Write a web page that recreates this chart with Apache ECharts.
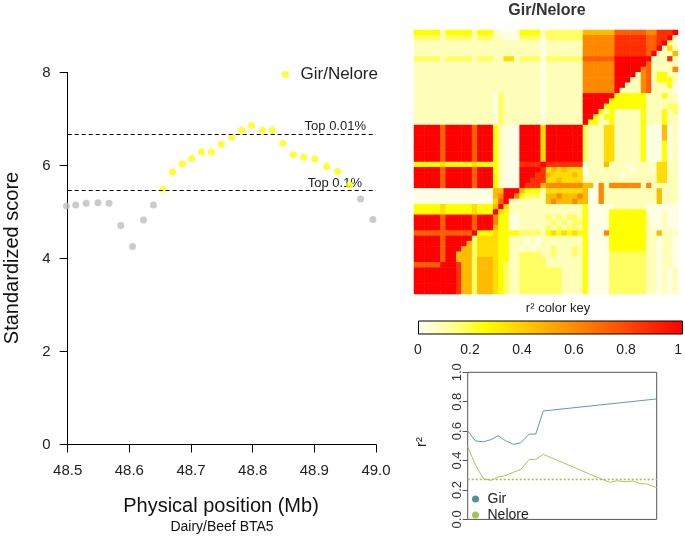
<!DOCTYPE html>
<html><head><meta charset="utf-8">
<script src="https://cdn.jsdelivr.net/npm/echarts@6/dist/echarts.min.js"></script>
<style>html,body{margin:0;padding:0;background:#fff}#c{width:685px;height:536px}</style>
</head><body><div id="c"></div>
<script>
// ---------- Left panel: standardized scores along BTA5 ----------
const positions = [48.498,48.513,48.530,48.549,48.567,48.586,48.605,48.623,48.639,48.655,
  48.670,48.686,48.701,48.717,48.733,48.749,48.766,48.782,48.798,48.816,
  48.832,48.849,48.866,48.883,48.901,48.920,48.938,48.957,48.975,48.995];
const scores = [5.13,5.15,5.19,5.20,5.19,4.71,4.26,4.83,5.15,5.49,
  5.86,6.03,6.15,6.29,6.29,6.45,6.61,6.76,6.86,6.76,
  6.76,6.48,6.23,6.18,6.14,5.98,5.87,5.58,5.28,4.84];
const TOP_001 = 6.68;   // Top 0.01% threshold
const TOP_01 = 5.46;    // Top 0.1% threshold
const xTickValues = [48.5,48.6,48.7,48.8,48.9,49.0];
const yTickValues = [0,2,4,6,8];

// ---------- LD heatmap (50 SNPs); digit = r2 level index ----------
const ldLevels = [0.02,0.08,0.17,0.25,0.35,0.45,0.6,0.72,0.86,1.0];
const ldRows = [
"33333 1 33333 1 333 1 0 000 3333 1 2222222 555555 777777 66 888 9",
"22222 1 22222 1 222 1 1 000 2222 0 2222222 666666 888888 77 889 1",
"11111 1 11111 1 111 1 1 111 1111 0 1111111 666666 888888 77 892 0",
"11111 1 11111 1 111 1 1 111 1111 0 1111111 666666 888888 77 914 1",
"11111 1 11111 1 111 1 1 111 1111 0 1111111 666666 888888 79 111 5",
"22222 1 22222 1 222 1 1 441 2222 0 2222222 777777 999999 91 118 1",
"11111 1 11111 1 111 1 1 111 1111 0 1111111 666666 999999 71 111 1",
"11111 1 11111 1 111 1 1 111 1111 0 1111111 666666 999996 71 111 6",
"11111 1 11111 1 111 1 1 111 1111 0 1111111 666666 999916 71 331 1",
"11111 1 11111 1 111 1 1 111 1111 0 1111111 666666 999116 71 333 1",
"11111 1 11111 1 111 1 1 111 1111 0 1111111 666666 991116 71 113 0",
"11111 1 11111 1 111 1 1 111 1111 0 1111111 666666 911116 71 111 0",
"11111 1 11111 1 111 0 2 111 1111 0 1111111 999999 333333 11 131 1",
"11111 1 11111 1 111 0 2 111 1111 0 1111111 999993 333333 11 111 1",
"11111 1 11111 1 111 0 2 111 1111 0 1111111 999933 333333 11 112 2",
"11111 1 11111 1 111 0 2 111 1111 0 1111111 999313 111113 11 131 2",
"11111 1 11111 1 111 0 2 111 1111 0 1111111 993133 111113 11 131 1",
"11111 1 11111 1 111 0 2 111 1111 0 1111111 933113 111113 11 131 1",
"99999 7 99999 7 999 3 1 000 9999 4 9999999 211144 111113 00 050 1",
"99999 7 99999 7 999 3 1 000 9999 4 9999999 211144 111113 00 050 1",
"99999 7 99999 7 999 3 1 000 9999 4 9999999 211144 111113 00 050 1",
"99999 7 99999 7 999 3 1 000 9999 4 9999999 211144 111113 00 030 1",
"99999 7 99999 7 999 3 1 000 9999 4 9999999 211144 111113 00 030 1",
"99999 7 99999 7 999 3 1 000 9999 4 9999999 211144 111113 00 030 1",
"99999 7 99999 7 999 3 1 000 9999 4 9999999 211144 111113 00 030 1",
"33333 4 33333 4 333 3 1 000 8888 9 8888888 011151 110111 11 441 1",
"99999 7 99999 7 999 3 1 000 9999 8 4545444 011111 111011 10 441 1",
"99999 7 99999 7 999 3 1 000 9998 8 5444454 011111 101111 11 441 1",
"99999 7 99999 7 999 3 1 000 9988 8 4454444 111111 111111 11 441 1",
"99999 7 99999 7 999 3 1 000 9888 5 6666666 550616 666661 61 111 1",
"00000 0 00000 0 000 5 5 999 5333 1 4444444 500611 111111 11 511 1",
"00000 0 00000 0 000 5 6 996 3222 1 5565556 500611 111111 11 511 1",
"00000 0 00000 0 000 4 7 911 1111 1 5655565 500611 111111 11 511 1",
"33333 4 33333 4 333 5 9 411 1111 1 1111111 300000 111111 00 000 0",
"33333 4 33333 4 333 9 4 311 1111 1 1111111 300003 333333 00 010 0",
"99999 7 99999 7 999 6 3 300 1111 1 2121221 300003 333333 10 010 0",
"99999 7 99999 7 999 6 3 300 1111 1 1212122 300003 333333 10 010 0",
"99999 7 99999 7 999 5 3 300 1111 1 2121221 300003 333333 10 010 0",
"77777 7 77777 9 333 4 3 333 2222 1 3434343 300063 333333 11 511 1",
"99999 7 99999 2 444 4 3 311 1010 1 1111111 300003 333333 11 011 0",
"99999 7 99995 2 444 4 3 311 1010 1 1111111 300003 333333 11 011 0",
"99999 7 99955 2 444 4 3 311 0101 1 1211121 300003 333333 11 011 0",
"99999 7 99555 2 444 4 3 311 2222 1 1211121 300002 222222 11 011 0",
"99999 7 99555 2 555 4 3 311 2222 2 1111111 300002 222222 11 011 0",
"77777 9 99855 2 555 4 3 211 2222 2 1111111 300002 222222 11 011 0",
"99999 9 99855 2 555 4 3 211 2222 2 2221111 300002 222222 11 010 1",
"99999 9 99855 2 555 4 3 211 2222 2 2221111 300002 222222 11 010 1",
"99999 9 99855 2 555 4 3 211 2222 2 2221111 300002 222222 11 010 1",
"99999 9 99855 2 555 4 3 211 2222 2 2221111 300002 222222 11 010 1",
"99999 9 99855 2 555 4 3 211 2222 2 2221111 300002 222222 11 010 1"
];
const keyTicks = [0,0.2,0.4,0.6,0.8,1];
const keyColors = ['#FFFFF5','#FFFF99','#FFFF00','#FFD500','#FFAA00','#FF8000','#FF5500','#FF2A00','#FF0000'];

// ---------- r2 decay lines ----------
const lineX   = [0,0.041,0.084,0.123,0.161,0.200,0.242,0.281,0.325,0.360,0.400,1.0];
const girR2   = [0.603,0.533,0.528,0.542,0.569,0.535,0.510,0.521,0.580,0.580,0.737,0.819];
const neloreX = [0,0.041,0.084,0.123,0.161,0.193,0.242,0.281,0.325,0.360,0.400,0.719,0.754,0.789,0.833,0.877,0.912,0.947,1.0];
const neloreR2= [0.494,0.370,0.275,0.266,0.288,0.295,0.320,0.340,0.408,0.408,0.442,0.268,0.252,0.263,0.256,0.261,0.243,0.241,0.216];
const r2Threshold = 0.268;
const r2Ticks = [0,0.2,0.4,0.6,0.8,1.0];

// ---------- build ----------
const FONT = '"Liberation Sans", Arial, Helvetica, sans-serif';
const greyPts = [], yellowPts = [];
positions.forEach((p, i) => (scores[i] > TOP_01 ? yellowPts : greyPts).push([p, scores[i]]));

const heat = [];
ldRows.forEach((s, r) => {
  const t = s.replace(/\s+/g, '');
  if (t.length !== 50) console.warn('row', r, 'len', t.length);
  for (let c = 0; c < t.length; c++) heat.push([c, r, ldLevels[+t[c]]]);
});
const snpIdx = Array.from({length: 50}, (_, i) => String(i));

const chart = echarts.init(document.getElementById('c'), null, {renderer: 'canvas'});
const option = {
  animation: false,
  backgroundColor: '#fff',
  textStyle: {fontFamily: FONT},
  grid: [
    {left: 67.7, top: 72.5, width: 308.3, height: 372},
    {left: 414, top: 30, width: 264, height: 264},
    {left: 418, top: 321, width: 264, height: 13},
    {left: 467.7, top: 372.3, width: 189, height: 147.1, show: true, borderColor: '#555', borderWidth: 1, backgroundColor: 'transparent'}
  ],
  xAxis: [
    {gridIndex: 0, type: 'value', min: 48.5, max: 49.0, interval: 0.1,
     axisLine: {lineStyle: {color: '#000', width: 1}},
     axisTick: {length: 8, lineStyle: {color: '#000'}},
     axisLabel: {fontSize: 15, color: '#222', margin: 19, formatter: v => v.toFixed(1)},
     splitLine: {show: false}},
    {gridIndex: 1, type: 'category', data: snpIdx, show: false},
    {gridIndex: 2, type: 'value', min: 0, max: 1, interval: 0.2,
     axisLine: {show: false}, axisTick: {show: false}, splitLine: {show: false},
     axisLabel: {fontSize: 14, color: '#222', margin: 9, formatter: v => (v === 0 || v === 1) ? String(v) : v.toFixed(1)}},
    {gridIndex: 3, type: 'value', min: 0, max: 1, show: false}
  ],
  yAxis: [
    {gridIndex: 0, type: 'value', min: 0, max: 8, interval: 2,
     axisLine: {show: true, lineStyle: {color: '#000', width: 1}},
     axisTick: {show: true, length: 8, lineStyle: {color: '#000'}},
     axisLabel: {fontSize: 15, color: '#222', margin: 17},
     splitLine: {show: false}},
    {gridIndex: 1, type: 'category', data: snpIdx, inverse: true, show: false},
    {gridIndex: 2, type: 'value', show: false},
    {gridIndex: 3, type: 'value', min: 0, max: 1, interval: 0.2,
     axisLine: {show: false},
     axisTick: {show: true, length: 5, lineStyle: {color: '#555'}},
     axisLabel: {fontSize: 13, color: '#333', margin: 4, rotate: 90, formatter: v => v.toFixed(1)},
     splitLine: {show: false}}
  ],
  visualMap: {type: 'continuous', show: false, min: 0, max: 1, seriesIndex: 2, inRange: {color: keyColors}},
  legend: [
    {data: ['Gir/Nelore'], left: 277, top: 61, icon: 'circle', itemWidth: 20, itemHeight: 7,
     textStyle: {fontSize: 17, color: '#222'}},
    {data: ['Gir', 'Nelore'], orient: 'vertical', left: 467, top: 487, icon: 'circle', itemWidth: 14, itemHeight: 7,
     itemGap: 2, textStyle: {fontSize: 14, color: '#222', lineHeight: 13}}
  ],
  series: [
    {name: 'Other', type: 'scatter', xAxisIndex: 0, yAxisIndex: 0, data: greyPts, symbolSize: 7, clip: false,
     itemStyle: {color: '#BEBEBE'}, silent: true},
    {name: 'Gir/Nelore', type: 'scatter', xAxisIndex: 0, yAxisIndex: 0, data: yellowPts, symbolSize: 7, clip: false,
     itemStyle: {color: '#FFFF00'}, silent: true,
     markLine: {silent: true, symbol: 'none', label: {show: false},
       lineStyle: {type: [4, 3], color: '#000', width: 1},
       data: [{yAxis: TOP_001}, {yAxis: TOP_01}]}},
    {name: 'LD', type: 'heatmap', xAxisIndex: 1, yAxisIndex: 1, data: heat, silent: true,
     itemStyle: {borderWidth: 0}, emphasis: {disabled: true}, progressive: 0},
    {name: 'Gir', type: 'line', xAxisIndex: 3, yAxisIndex: 3, data: lineX.map((x, i) => [x, girR2[i]]),
     showSymbol: false, silent: true, lineStyle: {color: '#5B9DAD', width: 1}, itemStyle: {color: '#4F91A3'}},
    {name: 'Nelore', type: 'line', xAxisIndex: 3, yAxisIndex: 3, data: neloreX.map((x, i) => [x, neloreR2[i]]),
     showSymbol: false, silent: true, lineStyle: {color: '#A8C956', width: 1}, itemStyle: {color: '#A3C64C'},
     markLine: {silent: true, symbol: 'none', label: {show: false},
       lineStyle: {type: [2, 2], color: '#9CC24A', width: 1.3},
       data: [{yAxis: r2Threshold}]}}
  ]
};
chart.setOption(option);

function txt(text, x, y, size, opts) {
  opts = opts || {};
  return {type: 'text', x: x, y: y, rotation: opts.rot || 0, silent: true,
    style: {text: text, font: (opts.bold ? 'bold ' : '') + size + 'px ' + FONT, fill: opts.color || '#111',
      align: opts.align || 'center', textAlign: opts.align || 'center',
      verticalAlign: 'middle', textVerticalAlign: 'middle'}};
}
const pA = chart.convertToPixel({gridIndex: 0}, [49.0, TOP_001]);
const pB = chart.convertToPixel({gridIndex: 0}, [49.0, TOP_01]);
const stops = keyColors.map((c, i) => ({offset: i / (keyColors.length - 1), color: c}));
const graphics = [
  txt('Standardized score', 12, 258, 20, {rot: Math.PI / 2}),
  txt('Physical position (Mb)', 221, 506, 20),
  txt('Dairy/Beef BTA5', 222, 527, 14),
  txt('Top 0.01%', pA[0] - 10, pA[1] - 7.5, 13, {align: 'right', color: '#222'}),
  txt('Top 0.1%', pB[0] - 14, pB[1] - 7.5, 13, {align: 'right', color: '#222'}),
  txt('Gir/Nelore', 547, 11, 16, {bold: true, color: '#333'}),
  txt('r\u00B2 color key', 558, 308, 13, {color: '#222'}),
  txt('r\u00B2', 422, 442, 15, {rot: Math.PI / 2, color: '#222'}),
  {type: 'rect', silent: true, shape: {x: 418.5, y: 321, width: 264, height: 13},
   style: {fill: new echarts.graphic.LinearGradient(0, 0, 1, 0, stops), stroke: '#000', lineWidth: 1}}
];
chart.setOption({graphic: graphics});
</script>
</body></html>
